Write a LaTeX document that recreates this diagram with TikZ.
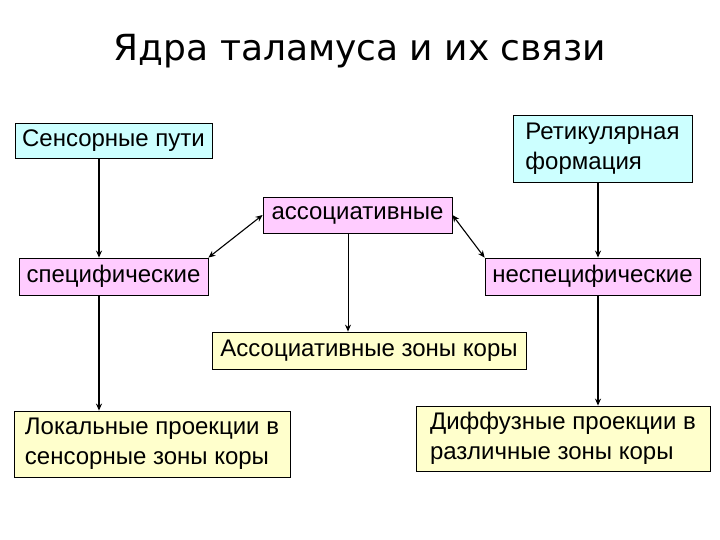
\documentclass[tikz,border=0pt]{standalone}
\usepackage{fontspec}
\setmainfont{Liberation Sans}
\newfontfamily\titlefont{DejaVu Sans}
\usepackage{xcolor}
\usetikzlibrary{positioning,arrows.meta}
\definecolor{boxcyan}{RGB}{204,255,255}
\definecolor{boxpink}{RGB}{255,204,255}
\definecolor{boxyellow}{RGB}{255,255,204}

\begin{document}
\begin{tikzpicture}[x=1pt, y=-1pt,
  font=\fontsize{24}{30}\selectfont,
  blk/.style={draw, line width=0.8pt, inner sep=3pt, align=left, anchor=center},
  src/.style={blk, fill=boxcyan},
  nuc/.style={blk, fill=boxpink},
  zone/.style={blk, fill=boxyellow},
  arr/.style={-{Stealth[length=7pt, width=6pt]}, line width=1.6pt},
  thin arr/.style={-{Stealth[length=7pt, width=6pt]}, line width=0.9pt},
  both arr/.style={{Stealth[length=7pt, width=6pt]}-{Stealth[length=7pt, width=6pt]}, line width=1.1pt}]
\useasboundingbox (0,0) rectangle (720,540);
\node[font=\titlefont\fontsize{36}{42}\selectfont] (title) at (360,51) {Ядра таламуса и их связи};
% top row
\node[src, minimum width=197pt, minimum height=35pt] (sens) at (113.5,140.5) {Сенсорные пути};
\node[src, minimum width=179pt, minimum height=67pt] (ret) at (602.5,148.5) {Ретикулярная\\формация};
% nuclei
\node[nuc, minimum width=189pt, minimum height=36pt] (assoc) at (357.5,215) {ассоциативные};
\node[nuc, minimum width=189pt, minimum height=37pt] (spec) at (113.5,276.5) {специфические};
\node[nuc, minimum width=215pt, minimum height=37pt] (nonspec) at (592.5,276.5) {неспецифические};
% cortex
\node[zone, minimum width=314pt, minimum height=37pt] (zones) at (369,350.5) {Ассоциативные зоны коры};
\node[zone, minimum width=276pt, minimum height=66pt] (local) at (152,444) {Локальные проекции в\\сенсорные зоны коры};
\node[zone, minimum width=294pt, minimum height=65pt] (diff) at (563,438.5) {Диффузные проекции в\\различные зоны коры};
% connections
\draw[arr] ([xshift=-14.5pt]sens.south) -- ([xshift=-14.5pt]sens.south |- spec.north);
\draw[arr] ([xshift=-14.5pt]spec.south) -- ([xshift=-14.5pt]spec.south |- local.north);
\draw[arr] ([xshift=-4.5pt]ret.south) -- ([xshift=-4.5pt]ret.south |- nonspec.north);
\draw[arr] ([xshift=5.5pt]nonspec.south) -- ([xshift=5.5pt]nonspec.south |- diff.north);
\draw[thin arr] ([xshift=-9.5pt]assoc.south) -- ([xshift=-9.5pt]assoc.south |- zones.north);
\draw[both arr] (assoc.west) -- (spec.north east);
\draw[both arr] (assoc.east) -- (nonspec.north west);
\end{tikzpicture}
\end{document}
